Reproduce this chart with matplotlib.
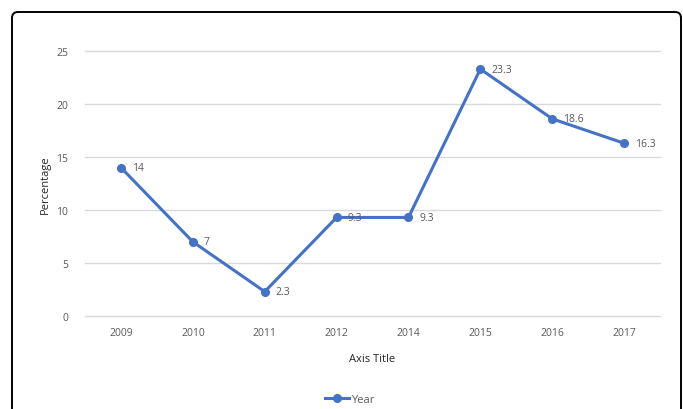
import matplotlib.pyplot as plt
from matplotlib.patches import FancyBboxPatch
from matplotlib.transforms import IdentityTransform

years = ['2009', '2010', '2011', '2012', '2014', '2015', '2016', '2017']
percent = [14, 7, 2.3, 9.3, 9.3, 23.3, 18.6, 16.3]
labels = ['14', '7', '2.3', '9.3', '9.3', '23.3', '18.6', '16.3']

blue = '#4472C4'
gray = '#595959'
plt.rcParams['font.family'] = ['Open Sans', 'DejaVu Sans']

fig = plt.figure(figsize=(6.83, 4.10), dpi=100)
ax = fig.add_axes([0.1245, 0.2268, 0.8419, 0.6463])

x = range(len(years))
ax.plot(x, percent, color=blue, lw=2.2, marker='o', ms=5.5, label='Year')
for i, (v, t) in enumerate(zip(percent, labels)):
    ax.annotate(t, (i, v), xytext=(8, 0), textcoords='offset points',
                va='center', ha='left', fontsize=7.5, color=gray)

ax.set_xlim(-0.5, len(years) - 0.5)
ax.set_ylim(0, 25)
ax.set_yticks([0, 5, 10, 15, 20, 25])
ax.set_xticks(list(x))
ax.set_xticklabels(years)
ax.tick_params(length=0, labelsize=7.5, labelcolor=gray)
ax.tick_params(axis='y', pad=12)
ax.tick_params(axis='x', pad=8)
ax.grid(axis='y', color='#D9D9D9', lw=1)
for gl in ax.get_ygridlines():
    gl.set_clip_on(False)
ax.set_axisbelow(True)
for s in ax.spines.values():
    s.set_visible(False)

ax.set_xlabel('Axis Title', fontsize=8, color='#262626', labelpad=11)
ax.set_ylabel('Percentage', fontsize=8, color='#262626', labelpad=4)

ax.legend(loc='upper center', bbox_to_anchor=(0.46, -0.255), frameon=False,
          fontsize=8, labelcolor=gray, handlelength=2.2, handletextpad=0.2)

border = FancyBboxPatch((12, -10), 669, 407,
                        boxstyle='round,pad=0,rounding_size=6',
                        transform=IdentityTransform(), fill=False,
                        ec='black', lw=1.4)
fig.add_artist(border)

fig.savefig('out.png', dpi=100)
